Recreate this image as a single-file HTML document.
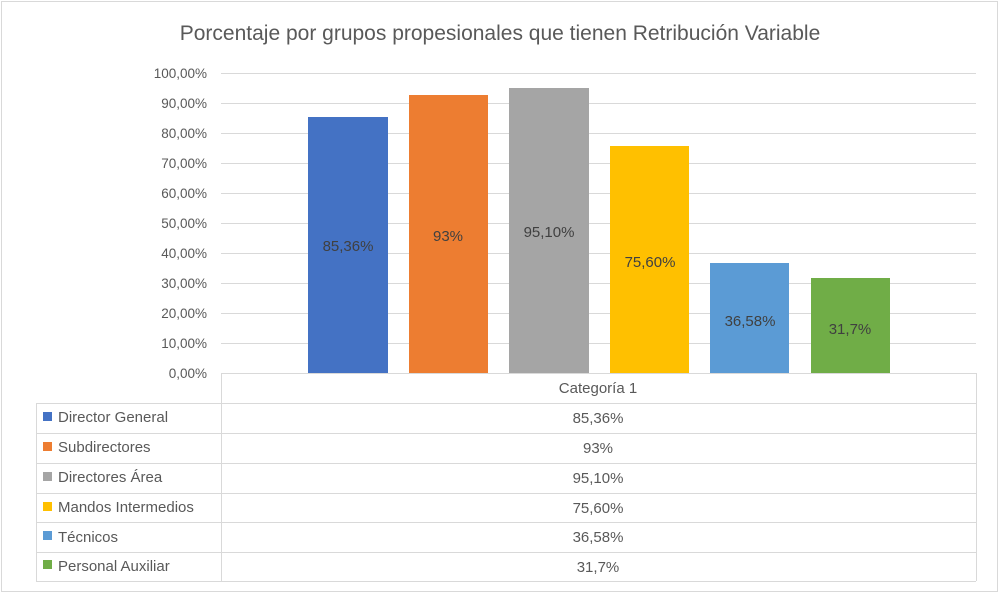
<!DOCTYPE html>
<html><head><meta charset="utf-8"><style>
body{margin:0;background:#fff}
svg{display:block;font-family:"Liberation Sans",sans-serif}
</style></head><body>
<svg width="1000" height="594" viewBox="0 0 1000 594">
<rect x="1.5" y="1.5" width="996" height="590" fill="#fff" stroke="#d9d9d9"/>
<text x="500" y="40" font-size="21" fill="#595959" text-anchor="middle">Porcentaje por grupos propesionales que tienen Retribución Variable</text>
<g stroke="#d9d9d9" stroke-width="1">
<line x1="221" x2="976" y1="73.5" y2="73.5"/><line x1="221" x2="976" y1="103.5" y2="103.5"/>
<line x1="221" x2="976" y1="133.5" y2="133.5"/><line x1="221" x2="976" y1="163.5" y2="163.5"/>
<line x1="221" x2="976" y1="193.5" y2="193.5"/><line x1="221" x2="976" y1="223.5" y2="223.5"/>
<line x1="221" x2="976" y1="253.5" y2="253.5"/><line x1="221" x2="976" y1="283.5" y2="283.5"/>
<line x1="221" x2="976" y1="313.5" y2="313.5"/><line x1="221" x2="976" y1="343.5" y2="343.5"/>
</g>
<g font-size="13.5" fill="#595959" text-anchor="end">
<text x="207" y="78">100,00%</text><text x="207" y="108">90,00%</text><text x="207" y="138">80,00%</text>
<text x="207" y="168">70,00%</text><text x="207" y="198">60,00%</text><text x="207" y="228">50,00%</text>
<text x="207" y="258">40,00%</text><text x="207" y="288">30,00%</text><text x="207" y="318">20,00%</text>
<text x="207" y="348">10,00%</text><text x="207" y="378">0,00%</text>
</g>
<rect x="308" y="117" width="80" height="256" fill="#4472c4"/>
<rect x="409" y="95" width="79" height="278" fill="#ed7d31"/>
<rect x="509" y="88" width="80" height="285" fill="#a5a5a5"/>
<rect x="610" y="146" width="79" height="227" fill="#ffc000"/>
<rect x="710" y="263" width="79" height="110" fill="#5b9bd5"/>
<rect x="811" y="278" width="79" height="95" fill="#70ad47"/>
<g font-size="15" fill="#404040" text-anchor="middle">
<text x="348" y="251">85,36%</text><text x="448" y="241">93%</text><text x="549" y="237">95,10%</text>
<text x="650" y="267">75,60%</text><text x="750" y="326">36,58%</text><text x="850" y="334">31,7%</text>
</g>
<g stroke="#d9d9d9" fill="none">
<line x1="221.5" y1="373" x2="221.5" y2="581"/>
<line x1="976.5" y1="373" x2="976.5" y2="581"/>
<line x1="221" y1="373.5" x2="976" y2="373.5"/>
<line x1="36.5" y1="403" x2="36.5" y2="581"/>
<line x1="36" y1="403.5" x2="976" y2="403.5"/><line x1="36" y1="433.5" x2="976" y2="433.5"/>
<line x1="36" y1="463.5" x2="976" y2="463.5"/><line x1="36" y1="493.5" x2="976" y2="493.5"/>
<line x1="36" y1="522.5" x2="976" y2="522.5"/><line x1="36" y1="552.5" x2="976" y2="552.5"/>
<line x1="36" y1="581.5" x2="976" y2="581.5"/>
</g>
<rect x="43" y="412" width="9" height="9" fill="#4472c4"/>
<rect x="43" y="442" width="9" height="9" fill="#ed7d31"/>
<rect x="43" y="472" width="9" height="9" fill="#a5a5a5"/>
<rect x="43" y="502" width="9" height="9" fill="#ffc000"/>
<rect x="43" y="531" width="9" height="9" fill="#5b9bd5"/>
<rect x="43" y="560" width="9" height="9" fill="#70ad47"/>
<g font-size="15" fill="#595959">
<text x="58" y="422">Director General</text><text x="58" y="452">Subdirectores</text>
<text x="58" y="482">Directores Área</text><text x="58" y="512">Mandos Intermedios</text>
<text x="58" y="542">Técnicos</text><text x="58" y="571">Personal Auxiliar</text>
</g>
<g font-size="15" fill="#595959" text-anchor="middle">
<text x="598" y="393">Categoría 1</text>
<text x="598" y="423">85,36%</text><text x="598" y="453">93%</text><text x="598" y="483">95,10%</text>
<text x="598" y="513">75,60%</text><text x="598" y="542">36,58%</text><text x="598" y="572">31,7%</text>
</g>
</svg>
</body></html>
